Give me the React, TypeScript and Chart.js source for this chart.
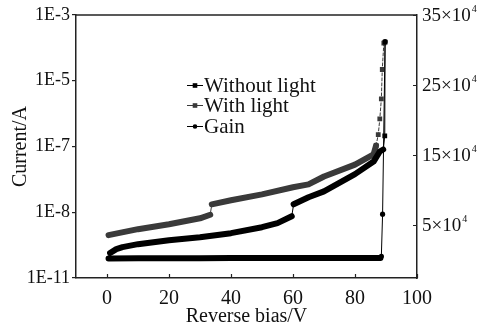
import React, { useEffect, useRef } from 'react';
import { Chart, LinearScale, registerables } from 'chart.js';

const FONT = "'Liberation Serif', 'Times New Roman', serif";

// Axis ticks
const currentTicks = [1e-11, 1e-8, 1e-7, 1e-5, 1e-3];
const currentTickLabels = ['1E-11', '1E-8', '1E-7', '1E-5', '1E-3'];
const biasTicks = [0, 20, 40, 60, 80, 100];
const gainTicks = [5e4, 15e4, 25e4, 35e4];

// Dark current (A) vs reverse bias (V)
const withoutLightV = [0.5, 1, 3, 5, 10, 20, 30, 40, 50, 55, 59.6, 60.2, 65, 70, 80, 86, 88, 89.1, 89.6, 89.7];
const withoutLightI = [7.3e-11, 1.37e-10, 2.08e-10, 2.57e-10, 3.5e-10, 5.3e-10, 7.3e-10, 1.11e-9, 2.08e-9, 3.2e-9, 6.6e-9, 1.32e-8, 1.69e-8, 2.08e-8, 3.8e-8, 5.9e-8, 8.4e-8, 9.0e-8, 2.1e-7, 1.5e-4];

// Photocurrent (A) vs reverse bias (V)
const withLightV = [0.5, 10, 20, 30, 33.3, 33.8, 40, 50, 60, 65, 70, 80, 86, 86.8, 87.5, 88.0, 88.5, 88.8, 89.3];
const withLightI = [9.0e-10, 1.69e-9, 2.85e-9, 5.3e-9, 7.7e-9, 1.32e-8, 1.52e-8, 1.87e-8, 2.4e-8, 2.65e-8, 3.5e-8, 5.3e-8, 7.6e-8, 1.07e-7, 2.3e-7, 6.9e-7, 2.8e-6, 2.2e-5, 1.4e-4];

// Gain vs reverse bias (V)
const gainV = [0.5, 10, 20, 30, 40, 50, 60, 70, 80, 88.2, 88.5, 88.9, 89.7];
const gainG = [2800, 3200, 3300, 3300, 3400, 3400, 3400, 3500, 3500, 3600, 6000, 66000, 312000];

// Maps a current onto evenly spaced slots between the labelled decades
function currentToSlot(v: number): number {
  const logs = currentTicks.map((t) => Math.log10(t));
  const lv = Math.log10(v);
  if (lv <= logs[0]) return (lv - logs[0]) / (logs[1] - logs[0]);
  for (let i = 0; i < logs.length - 1; i++) {
    if (lv <= logs[i + 1]) return i + (lv - logs[i]) / (logs[i + 1] - logs[i]);
  }
  const n = logs.length - 1;
  return n + (lv - logs[n]) / (logs[n] - logs[n - 1]);
}

function slotToCurrent(s: number): number {
  const logs = currentTicks.map((t) => Math.log10(t));
  const n = logs.length - 1;
  const i = Math.max(0, Math.min(n - 1, Math.floor(s)));
  return Math.pow(10, logs[i] + (s - i) * (logs[i + 1] - logs[i]));
}

class SegmentedLogScale extends LinearScale {
  static id = 'segmentedLog';
  static defaults = {};
  determineDataLimits() {
    (this as any).min = 0;
    (this as any).max = currentTicks.length - 1;
  }
  buildTicks() {
    return currentTicks.map((value) => ({ value }));
  }
  getPixelForValue(value: number) {
    if (value == null || !(value > 0)) return NaN;
    return (this as any).getPixelForDecimal(currentToSlot(value) / (currentTicks.length - 1));
  }
  getValueForPixel(pixel: number) {
    return slotToCurrent((this as any).getDecimalForPixel(pixel) * (currentTicks.length - 1));
  }
}

Chart.register(...registerables, SegmentedLogScale as any);

const BAND = 6;
const THIN = 1;

const frameAndLegend = {
  id: 'frameAndLegend',
  afterDraw(chart: any) {
    const { ctx, chartArea: ca, scales } = chart;
    ctx.save();
    // top frame line
    ctx.strokeStyle = '#222';
    ctx.lineWidth = 1.5;
    ctx.beginPath();
    ctx.moveTo(ca.left, ca.top);
    ctx.lineTo(ca.right, ca.top);
    ctx.stroke();

    // inward ticks on bottom and right axes
    ctx.lineWidth = 1.2;
    ctx.beginPath();
    scales.x.ticks.forEach((t: any) => {
      const px = Math.round(scales.x.getPixelForValue(t.value)) + 0.5;
      ctx.moveTo(px, ca.bottom);
      ctx.lineTo(px, ca.bottom - 4);
    });
    scales.y2.ticks.forEach((t: any) => {
      const py = Math.round(scales.y2.getPixelForValue(t.value)) + 0.5;
      ctx.moveTo(ca.right, py);
      ctx.lineTo(ca.right - 4, py);
    });
    ctx.stroke();

    // right axis labels: N×10^4
    ctx.fillStyle = '#111';
    ctx.textBaseline = 'middle';
    ctx.textAlign = 'left';
    scales.y2.ticks.forEach((t: any) => {
      const py = scales.y2.getPixelForValue(t.value);
      const main = `${Math.round(t.value / 1e4)}×10`;
      ctx.font = `19px ${FONT}`;
      const x0 = ca.right + 5;
      ctx.fillText(main, x0, py + 1);
      const w = ctx.measureText(main).width;
      ctx.font = `10px ${FONT}`;
      ctx.fillText('4', x0 + w + 1, py - 6);
    });

    // legend
    const rowY = [85, 105, 126];
    chart.data.datasets.forEach((ds: any, i: number) => {
      const y = rowY[i];
      const x0 = 187;
      const x1 = 203;
      const xm = (x0 + x1) / 2;
      ctx.strokeStyle = ds.borderColor;
      ctx.lineWidth = 1;
      ctx.beginPath();
      ctx.moveTo(x0, y + 0.5);
      ctx.lineTo(x1, y + 0.5);
      ctx.stroke();
      ctx.fillStyle = ds.borderColor;
      if (ds.pointStyle === 'circle') {
        ctx.beginPath();
        ctx.arc(xm, y + 0.5, 2.3, 0, Math.PI * 2);
        ctx.fill();
      } else {
        ctx.fillRect(xm - 2.3, y - 1.8, 4.6, 4.6);
      }
      ctx.fillStyle = '#111';
      ctx.font = `21px ${FONT}`;
      ctx.textAlign = 'left';
      ctx.textBaseline = 'middle';
      ctx.fillText(ds.label, x1 + 1, y + 1);
    });
    ctx.restore();
  },
};

function series(label: string, xs: number[], ys: number[], color: string, style: string, markFrom: number, yAxisID: string, dashed: boolean, radius: number) {
  const thin = (c: any) => c.p1.parsed.x - c.p0.parsed.x < 0.75 || c.p0.parsed.x >= markFrom;
  return {
    label,
    data: xs.map((x, i) => ({ x, y: ys[i] })),
    yAxisID,
    borderColor: color,
    backgroundColor: color,
    pointStyle: style,
    pointBorderWidth: 0,
    pointRadius: (c: any) => (c.raw && c.raw.x >= markFrom ? radius : 0),
    pointHoverRadius: 0,
    borderWidth: BAND,
    borderCapStyle: 'round',
    borderJoinStyle: 'round',
    tension: 0,
    segment: {
      borderWidth: (c: any) => (thin(c) ? THIN : BAND),
      borderDash: (c: any) => (dashed && thin(c) && c.p0.parsed.x > 80 ? [3, 2] : undefined),
    },
  };
}

export default function App() {
  const ref = useRef<HTMLCanvasElement | null>(null);
  useEffect(() => {
    if (!ref.current) return;
    const chart = new Chart(ref.current, {
      type: 'line',
      data: {
        datasets: [
          series('Without light', withoutLightV, withoutLightI, '#000000', 'rect', 89.5, 'y', false, 3.4),
          series('With light', withLightV, withLightI, '#3a3a3a', 'rect', 86.7, 'y', true, 3.4),
          series('Gain', gainV, gainG, '#000000', 'circle', 88.4, 'y2', false, 2.6),
        ] as any,
      },
      options: {
        responsive: false,
        animation: false,
        events: [],
        layout: { padding: { top: 15, left: 0, right: 0, bottom: 0 } },
        plugins: { legend: { display: false }, tooltip: { enabled: false } },
        scales: {
          x: {
            type: 'linear',
            min: -10,
            max: 100,
            afterBuildTicks: (s: any) => {
              s.ticks = biasTicks.map((value) => ({ value }));
            },
            afterFit: (s: any) => {
              s.height = 51;
            },
            grid: { display: false, drawTicks: false },
            border: { display: true, color: '#222', width: 1.5 },
            ticks: { autoSkip: false, maxRotation: 0, padding: 9, color: '#111', font: { family: FONT, size: 20 } },
            title: { display: true, text: 'Reverse bias/V', color: '#111', font: { family: FONT, size: 20 }, padding: { top: 0, bottom: 0 } },
          },
          y: {
            type: 'segmentedLog' as any,
            position: 'left',
            afterFit: (s: any) => {
              s.width = 76;
            },
            grid: { drawOnChartArea: false, drawTicks: true, tickLength: 4, color: '#222', lineWidth: 1.2 },
            border: { display: true, color: '#222', width: 1.5 },
            ticks: {
              autoSkip: false,
              padding: 2,
              color: '#111',
              font: { family: FONT, size: 18 },
              callback: (v: any) => currentTickLabels[currentTicks.indexOf(Number(v))] ?? '',
            },
            title: { display: true, text: 'Current/A', color: '#111', font: { family: FONT, size: 20 }, padding: { top: 9, bottom: 0 } },
          },
          y2: {
            type: 'linear',
            position: 'right',
            min: -25000,
            max: 350000,
            afterBuildTicks: (s: any) => {
              s.ticks = gainTicks.map((value) => ({ value }));
            },
            afterFit: (s: any) => {
              s.width = 70;
            },
            grid: { display: false, drawTicks: false },
            border: { display: true, color: '#222', width: 1.5 },
            ticks: { autoSkip: false, callback: () => '', font: { family: FONT, size: 18 } },
          },
        },
      } as any,
      plugins: [frameAndLegend],
    });
    return () => chart.destroy();
  }, []);
  return (
    <div style={{ position: 'fixed', left: 0, top: 0, width: 487, height: 329, background: '#fff' }}>
      <canvas ref={ref} width={487} height={329} style={{ display: 'block' }} />
    </div>
  );
}
